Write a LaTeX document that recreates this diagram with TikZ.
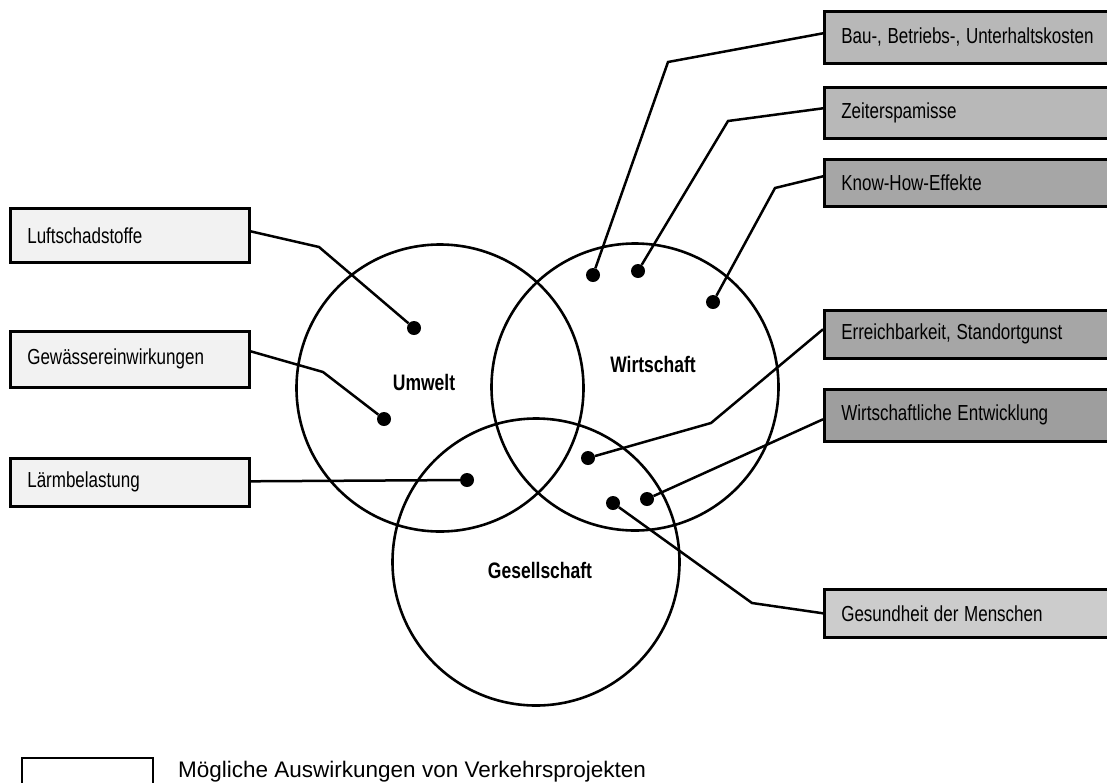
\documentclass[tikz,border=0pt]{standalone}
\usepackage{fontspec}
\setmainfont{Liberation Sans}
\usepackage{graphicx}
\newcommand\vs[1]{\scalebox{1}[1.28]{#1}}
\definecolor{lfill}{gray}{0.95}
\definecolor{rfillA}{gray}{0.72}
\definecolor{rfillB}{gray}{0.65}
\definecolor{rfillC}{gray}{0.62}
\definecolor{rfillD}{gray}{0.80}
\begin{document}
\begin{tikzpicture}[x=1pt,y=-1pt,
  every node/.style={font=\fontsize{17}{20}\selectfont},
  box/.style={draw=black, line width=2.6pt, anchor=north west, align=left, inner xsep=17pt, inner ysep=0pt},
  lbox/.style={box, fill=lfill, text width=205pt},
  rbox/.style={box, text width=270pt},
  dot/.style={circle, fill=black, inner sep=0pt, minimum size=14pt},
  conn/.style={line width=2.5pt},
  ring/.style={line width=2.6pt},
  clabel/.style={font=\fontsize{17.5}{20}\selectfont\bfseries}]
\clip (0,0) rectangle (1107,782);
\fill[white] (0,0) rectangle (1107,782);
% circles
\draw[ring] (440,388) circle[radius=143.5];
\draw[ring] (635,387) circle[radius=143.5];
\draw[ring] (536,562) circle[radius=143.5];
\node[clabel] (lu) at (424,382) {\vs{Umwelt}};
\node[clabel] (wi) at (653,364) {\vs{Wirtschaft}};
\node[clabel] (ge) at (540,570) {\vs{Gesellschaft}};
% left boxes
\node[lbox, minimum height=54pt] (luft) at (9,207) {\vs{Luftschadstoffe}};
\node[lbox, minimum height=56pt] (gew) at (9,330) {\vs{Gewässereinwirkungen}};
\node[lbox, minimum height=48pt] (laerm) at (9,457) {\vs{Lärmbelastung}};
% right boxes
\node[rbox, fill=rfillA, minimum height=52pt] (bau) at (823,10) {\vs{Bau-, Betriebs-, Unterhaltskosten}};
\node[rbox, fill=rfillA, minimum height=51pt] (zeit) at (823,86) {\vs{Zeiterspamisse}};
\node[rbox, fill=rfillB, minimum height=47pt] (know) at (823,158) {\vs{Know-How-Effekte}};
\node[rbox, fill=rfillB, minimum height=48pt] (erre) at (823,309) {\vs{Erreichbarkeit, Standortgunst}};
\node[rbox, fill=rfillC, minimum height=52pt] (wient) at (823,388) {\vs{Wirtschaftliche Entwicklung}};
\node[rbox, fill=rfillD, minimum height=48pt] (gesu) at (823,588) {\vs{Gesundheit der Menschen}};
% dots
\node[dot] (dluft) at (414,328) {};
\node[dot] (dgew) at (384,419) {};
\node[dot] (dlaerm) at (467,480) {};
\node[dot] (dbau) at (593,275) {};
\node[dot] (dzeit) at (638,271) {};
\node[dot] (dknow) at (713,302) {};
\node[dot] (derre) at (588,458) {};
\node[dot] (dwient) at (647,499) {};
\node[dot] (dgesu) at (613,503) {};
% connectors
\draw[conn] ([yshift=4pt]luft.east) -- (319,247) -- (dluft);
\draw[conn] ([yshift=8pt]gew.east) -- (323,372) -- (dgew);
\draw[conn] ([yshift=1pt]laerm.east) -- (dlaerm);
\draw[conn] ([yshift=4pt]bau.west) -- (668,62) -- (dbau);
\draw[conn] ([yshift=4.5pt]zeit.west) -- (728,121) -- (dzeit);
\draw[conn] ([yshift=6.5pt]know.west) -- (775,188) -- (dknow);
\draw[conn] ([yshift=5pt]erre.west) -- (711,423) -- (derre);
\draw[conn] ([yshift=-4pt]wient.west) -- (dwient);
\draw[conn] (gesu.west) -- (752,603) -- (dgesu);
% legend
\node[draw, line width=1.8pt, fill=white, anchor=north west, minimum width=131pt, minimum height=40pt] (leg) at (21,757) {};
\node[anchor=base west, inner sep=0pt, font=\fontsize{22.5}{26}\selectfont] (legtxt) at (178,777) {Mögliche Auswirkungen von Verkehrsprojekten};
\end{tikzpicture}
\end{document}
